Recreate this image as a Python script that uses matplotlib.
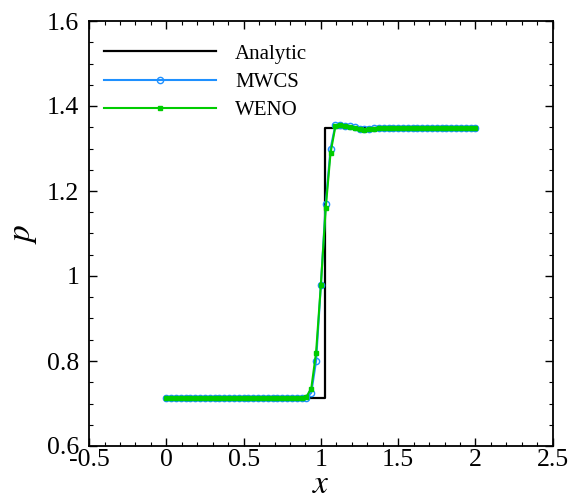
import matplotlib.pyplot as plt
import numpy as np
from matplotlib.ticker import MultipleLocator

plt.rcParams['font.family'] = ['Liberation Serif', 'DejaVu Serif']
plt.rcParams['mathtext.fontset'] = 'stix'

# exact solution (step at the shock)
x_exact = [0.0, 1.025, 1.025, 2.0]
p_exact = [0.714, 0.714, 1.348, 1.348]

# numerical grid, dx = 1/32
x_num = np.linspace(0.0, 2.0, 65)

p_mwcs = [0.714, 0.714, 0.714, 0.714, 0.714, 0.714, 0.714, 0.714, 0.714, 0.714,
          0.714, 0.714, 0.714, 0.714, 0.714, 0.714, 0.714, 0.714, 0.714, 0.714,
          0.714, 0.714, 0.714, 0.714, 0.714, 0.714, 0.714, 0.713, 0.712, 0.714,
          0.725, 0.800, 0.980, 1.170, 1.300, 1.355, 1.356, 1.354, 1.353, 1.350,
          1.347, 1.345, 1.346, 1.348, 1.349, 1.349, 1.349, 1.349, 1.349, 1.349,
          1.349, 1.349, 1.349, 1.349, 1.349, 1.349, 1.349, 1.349, 1.349, 1.349,
          1.349, 1.349, 1.349, 1.349, 1.349]

p_weno = [0.713, 0.713, 0.713, 0.713, 0.713, 0.713, 0.713, 0.713, 0.713, 0.713,
          0.713, 0.713, 0.713, 0.713, 0.713, 0.713, 0.713, 0.713, 0.713, 0.713,
          0.713, 0.713, 0.713, 0.713, 0.713, 0.713, 0.713, 0.713, 0.713, 0.716,
          0.735, 0.820, 0.980, 1.160, 1.290, 1.352, 1.355, 1.353, 1.351, 1.349,
          1.346, 1.344, 1.345, 1.347, 1.348, 1.348, 1.348, 1.348, 1.348, 1.348,
          1.348, 1.348, 1.348, 1.348, 1.348, 1.348, 1.348, 1.348, 1.348, 1.348,
          1.348, 1.348, 1.348, 1.348, 1.348]

fig = plt.figure(figsize=(5.71, 5.0), dpi=100)
ax = fig.add_axes([0.156, 0.108, 0.812, 0.85])

ax.plot(x_exact, p_exact, color='black', lw=1.6, label='Analytic')
ax.plot(x_num, p_mwcs, color='#1e90ff', lw=1.5, marker='o', ms=4.5,
        mfc='none', mec='#1e90ff', mew=1.0, label='MWCS')
ax.plot(x_num, p_weno, color='#00cc00', lw=1.5, marker='s', ms=3.2,
        mfc='#00cc00', mec='#00cc00', label='WENO')

ax.set_xlim(-0.5, 2.5)
ax.set_ylim(0.6, 1.6)
ax.xaxis.set_major_locator(MultipleLocator(0.5))
ax.xaxis.set_minor_locator(MultipleLocator(0.1))
ax.yaxis.set_major_locator(MultipleLocator(0.2))
ax.yaxis.set_minor_locator(MultipleLocator(0.05))
ax.set_xticks([-0.5, 0, 0.5, 1, 1.5, 2, 2.5])
ax.set_xticklabels(['-0.5', '0', '0.5', '1', '1.5', '2', '2.5'])
ax.set_yticks([0.6, 0.8, 1.0, 1.2, 1.4, 1.6])
ax.set_yticklabels(['0.6', '0.8', '1', '1.2', '1.4', '1.6'])

ax.tick_params(which='both', direction='in', top=True, right=True, labelsize=18.5)
ax.tick_params(which='major', length=6, width=1)
ax.tick_params(which='minor', length=3, width=0.8)
ax.tick_params(axis='x', which='major', pad=2)
ax.tick_params(axis='y', which='major', pad=7)
for s in ax.spines.values():
    s.set_linewidth(1.3)

ax.set_xlabel('$x$', fontsize=24, labelpad=-1)
ax.set_ylabel('$p$', fontsize=24, labelpad=6)

ax.legend(loc='upper left', frameon=False, fontsize=15, handlelength=5.4,
          handletextpad=0.9, labelspacing=0.42, numpoints=1,
          bbox_to_anchor=(0.0, 0.98), borderaxespad=0.3)

fig.savefig('out.png', dpi=100)
